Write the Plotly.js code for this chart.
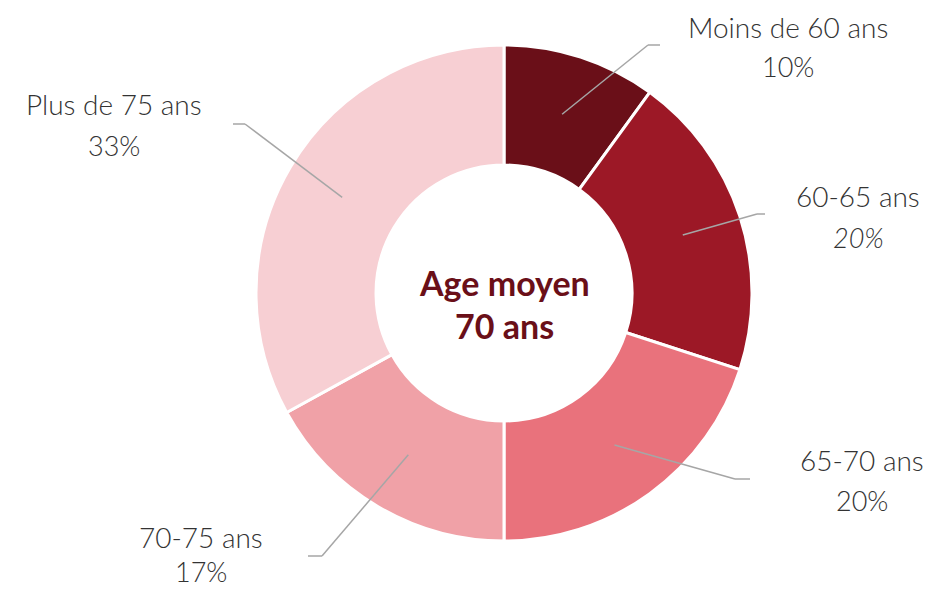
<!DOCTYPE html>
<html>
<head>
<meta charset="utf-8">
<script src="https://cdn.plot.ly/plotly-3.0.1.min.js"></script>
<style>html,body{margin:0;padding:0;background:#fff;}#chart{width:932px;height:590px;}</style>
</head>
<body>
<div id="chart"></div>
<script>
// Data
var categories = ["Moins de 60 ans", "60-65 ans", "65-70 ans", "70-75 ans", "Plus de 75 ans"];
var values = [10, 20, 20, 17, 33];
var percentLabels = ["10%", "20%", "20%", "17%", "33%"];
var colors = ["#6A0F18", "#9C1826", "#E9727C", "#F0A1A7", "#F7CFD3"];
var centerText = ["Age moyen", "70 ans"];

// Layout geometry (pixels)
var W = 932, H = 590;
var cx = 504, cy = 293, R = 248, holeFrac = 0.516;
// elbow point, end of horizontal tick, label centre x, label top line y, second line y, italic percent
var labelCfg = [
  {ex: 648, ey: 45,  hx: 660, tx: 788, ty1: 27,  ty2: 67,  ital: false},
  {ex: 757, ey: 214, hx: 765, tx: 858, ty1: 196, ty2: 237, ital: true},
  {ex: 735, ey: 479, hx: 750, tx: 862, ty1: 460, ty2: 500, ital: false},
  {ex: 322, ey: 556, hx: 308, tx: 201, ty1: 537, ty2: 571, ital: false},
  {ex: 245, ey: 124, hx: 233, tx: 114, ty1: 104, ty2: 145, ital: false}
];

function px(x){ return x / W; }
function py(y){ return 1 - y / H; }

var total = values.reduce(function(a,b){return a+b;}, 0);
var shapes = [], annotations = [];
var cum = 0;
var rMid = R * (1 + holeFrac) / 2;
for (var i = 0; i < values.length; i++) {
  var th = (cum + values[i] / 2) / total * 2 * Math.PI;
  cum += values[i];
  var sx = cx + rMid * Math.sin(th), sy = cy - rMid * Math.cos(th);
  var c = labelCfg[i];
  shapes.push({type: "line", xref: "paper", yref: "paper", x0: px(sx), y0: py(sy), x1: px(c.ex), y1: py(c.ey),
               line: {color: "#A6A6A6", width: 1.5}});
  shapes.push({type: "line", xref: "paper", yref: "paper", x0: px(c.ex), y0: py(c.ey), x1: px(c.hx), y1: py(c.ey),
               line: {color: "#A6A6A6", width: 1.5}});
  annotations.push({xref: "paper", yref: "paper", x: px(c.tx), y: py(c.ty1), text: categories[i], showarrow: false,
               xanchor: "center", yanchor: "middle", font: {family: "Lato", weight: 300, size: 28, color: "#333333"}});
  annotations.push({xref: "paper", yref: "paper", x: px(c.tx), y: py(c.ty2), text: percentLabels[i], showarrow: false,
               xanchor: "center", yanchor: "middle", font: {family: "Lato", weight: 300, size: 27, color: "#333333", style: c.ital ? "italic" : "normal"}});
}
annotations.push({xref: "paper", yref: "paper", x: px(cx), y: py(282), text: "<b>" + centerText[0] + "</b>", showarrow: false,
             xanchor: "center", yanchor: "middle", font: {family: "Lato", size: 34, color: "#6A0F18"}});
annotations.push({xref: "paper", yref: "paper", x: px(cx), y: py(326), text: "<b>" + centerText[1] + "</b>", showarrow: false,
             xanchor: "center", yanchor: "middle", font: {family: "Lato", size: 34, color: "#6A0F18"}});

var trace = {
  type: "pie",
  labels: categories,
  values: values,
  hole: holeFrac,
  sort: false,
  direction: "clockwise",
  rotation: 0,
  textinfo: "none",
  hoverinfo: "label+percent",
  marker: {colors: colors, line: {color: "#FFFFFF", width: 3}},
  domain: {x: [px(cx - R), px(cx + R)], y: [py(cy + R), py(cy - R)]},
  showlegend: false
};

var layout = {
  width: W, height: H,
  margin: {l: 0, r: 0, t: 0, b: 0},
  paper_bgcolor: "#FFFFFF",
  showlegend: false,
  shapes: shapes,
  annotations: annotations
};

Plotly.newPlot("chart", [trace], layout, {displayModeBar: false, staticPlot: true});
</script>
</body>
</html>
